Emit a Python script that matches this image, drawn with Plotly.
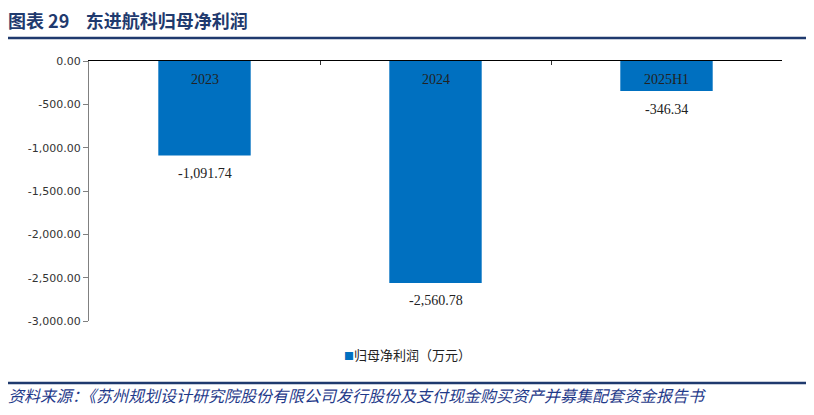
import plotly.graph_objects as go

categories = ["2023", "2024", "2025H1"]
values = [-1091.74, -2560.78, -346.34]
series_name = "归母净利润（万元）"
y_ticks = [0, -500, -1000, -1500, -2000, -2500, -3000]
title_text = "图表 29    东进航科归母净利润"
source_text = "资料来源：《苏州规划设计研究院股份有限公司发行股份及支付现金购买资产并募集配套资金报告书"

# page body has an 8px margin: figure origin sits at page (8, 8)
OFF = 8
W, H = 814 - OFF, 415 - 2 * OFF
L, T = 89 - OFF, 61 - OFF
R = W - (782 - OFF)
B = H - (321 - OFF)
pw, ph = W - L - R, H - T - B

def px(x):
    return (x - OFF - L) / pw

def py(y):
    return (H - B - (y - OFF)) / ph

def fmt(v):
    return f"{v:,.2f}"

fig = go.Figure()
fig.add_trace(go.Bar(
    x=categories, y=values, name=series_name,
    marker=dict(color="#0070C0", line=dict(width=0)),
    width=0.4,
    showlegend=False,
))

serif = dict(family="Liberation Serif, Times New Roman, serif", size=14, color="#222222")
for i, (c, v) in enumerate(zip(categories, values)):
    # value label below bar end
    fig.add_annotation(x=i, y=v, xref="x", yref="y", text=fmt(v), showarrow=False,
                       yanchor="middle", yshift=-18, font=serif)
    # category label just under the axis line (inside the bar)
    fig.add_annotation(x=i, y=0, xref="x", yref="y", text=c, showarrow=False,
                       yanchor="middle", yshift=-18, font=serif)

fig.update_layout(
    width=W, height=H,
    margin=dict(l=L, r=R, t=T, b=B, autoexpand=False),
    plot_bgcolor="white", paper_bgcolor="white",
    showlegend=False,
    xaxis=dict(
        type="category", range=[-0.5, len(categories) - 0.5],
        side="top", showticklabels=False, tickson="boundaries",
        ticks="inside", ticklen=4, tickcolor="#333333",
        showline=True, linecolor="#000000", linewidth=1.3,
        showgrid=False, zeroline=False, automargin=False,
    ),
    yaxis=dict(
        range=[-3000, 0], tickvals=y_ticks, ticktext=[fmt(v) for v in y_ticks],
        ticks="outside", ticklen=5, tickcolor="#808080",
        showline=True, linecolor="#808080", linewidth=1,
        showgrid=False, zeroline=False, automargin=False,
        tickfont=dict(family="DejaVu Sans, sans-serif", size=11, color="#333333"),
    ),
)

fig.add_annotation(xref="paper", yref="paper", x=px(342), y=py(354), xanchor="left", yanchor="middle",
                   text='<span style="color:#0070C0;font-size:10px">■</span>' + series_name, showarrow=False,
                   font=dict(family="Noto Sans CJK SC", size=13, color="#222222"))
fig.add_annotation(xref="paper", yref="paper", x=px(6), y=py(20), xanchor="left", yanchor="middle",
                   text="<b>" + title_text + "</b>", showarrow=False,
                   font=dict(family="Noto Sans CJK SC", size=18, color="#1F3A6E"))
fig.add_annotation(xref="paper", yref="paper", x=px(6), y=py(395), xanchor="left", yanchor="middle",
                   text="<i>" + source_text + "</i>", showarrow=False,
                   font=dict(family="Noto Sans CJK SC", size=16, color="#1F3A8A"))
fig.add_shape(type="line", xref="paper", yref="paper", x0=px(8), x1=px(806), y0=py(38), y1=py(38),
              line=dict(color="#1F3A6E", width=2.5))
fig.add_shape(type="line", xref="paper", yref="paper", x0=px(8), x1=px(806), y0=py(383), y1=py(383),
              line=dict(color="#1F3A6E", width=2.5))

fig.write_html("out.html")
